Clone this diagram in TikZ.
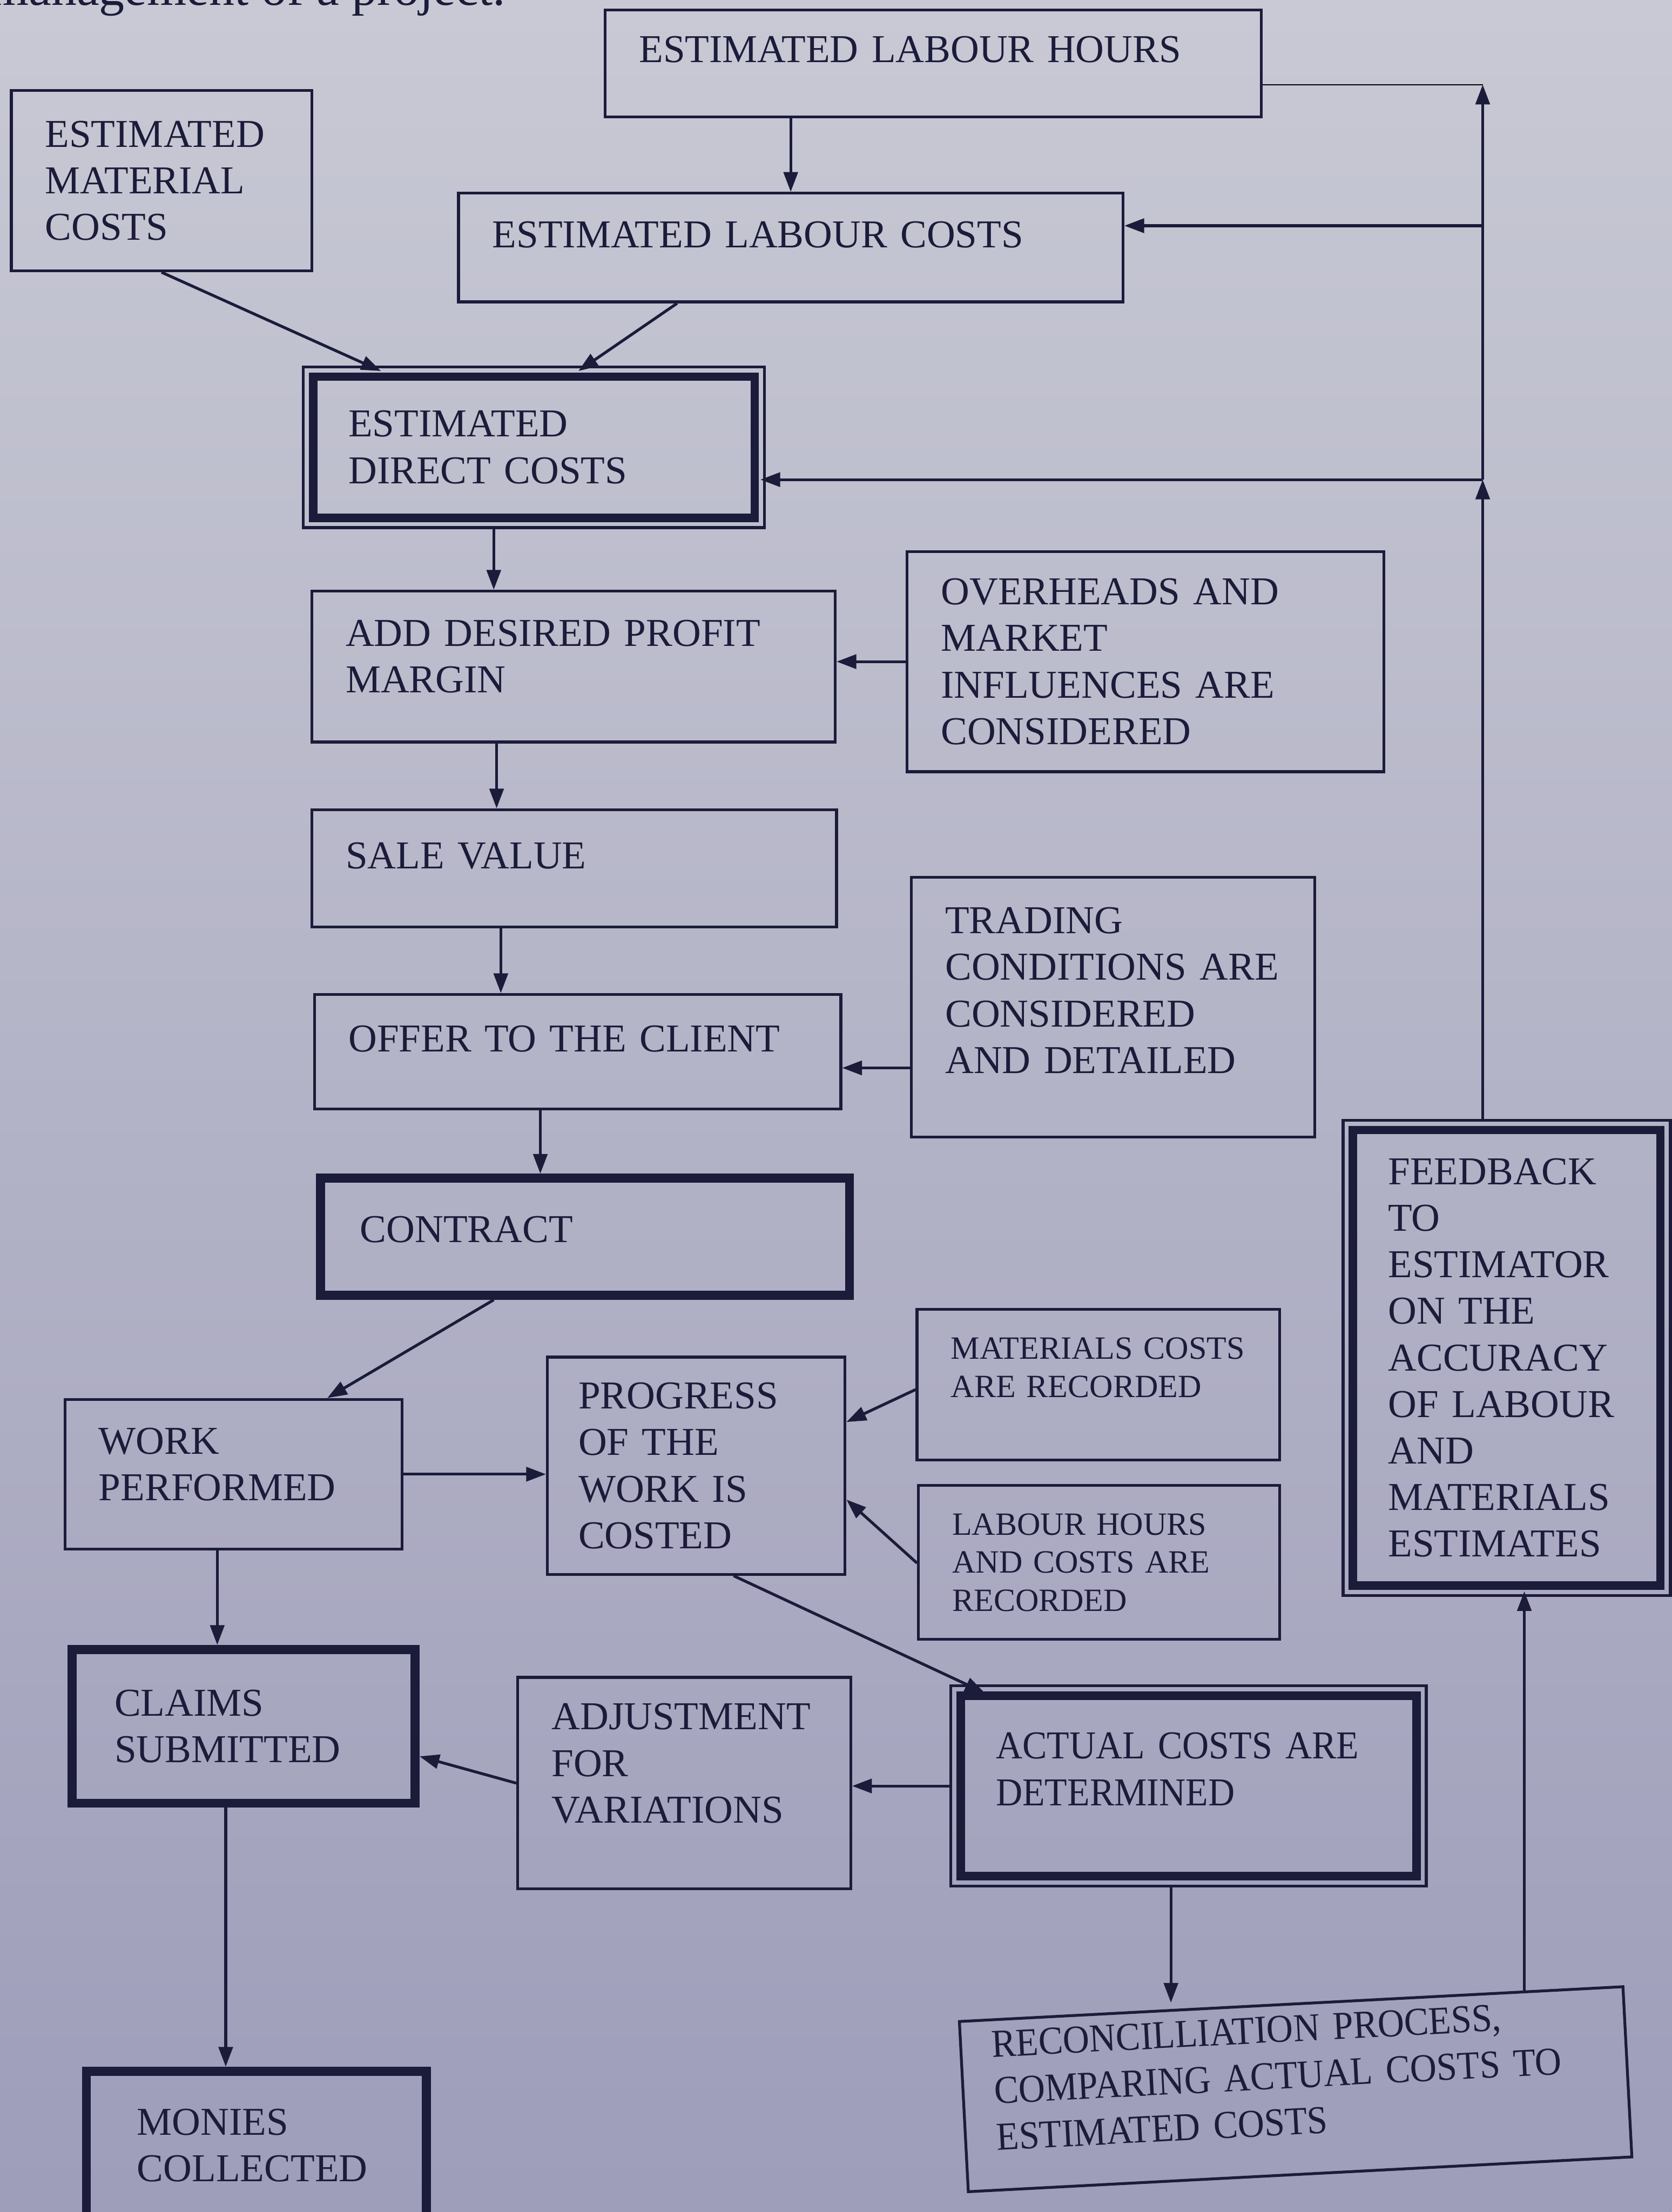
\documentclass[tikz,border=0pt]{standalone}
\usepackage{fontspec}
\setmainfont{Liberation Serif}
\newfontfamily\narrowserif[FakeStretch=0.93]{Liberation Serif}
\usetikzlibrary{arrows.meta,calc}
\definecolor{ink}{HTML}{1B1B3A}
\definecolor{paperTop}{HTML}{C8C9D4}
\definecolor{paperBot}{HTML}{9E9DBA}
\tikzset{
  box/.style={draw=ink,line width=1pt,rectangle,anchor=north west,align=left,text=ink,
              inner ysep=4pt,font=\fontsize{14}{16.5}\selectfont},
  sz/.style n args={3}{minimum width=#1*0.5pt,minimum height=#2*0.5pt,
              inner xsep=#3,text width=#1*0.5pt-2*#3},
  lift/.style={execute at end node={\par\kern#1}},
  smallbox/.style={box,font=\fontsize{11.5}{13.5}\selectfont},
  narrowbox/.style={font=\fontsize{14}{16.5}\narrowserif},
  thickbox/.style={box,line width=3.2pt},
  dblbox/.style={box,path picture={\draw[ink,line width=3pt]
      ([xshift=3.5pt,yshift=-3.5pt]path picture bounding box.north west) rectangle
      ([xshift=-3.5pt,yshift=3.5pt]path picture bounding box.south east);}},
  flow/.style={-{Triangle[length=7pt,width=5pt]},draw=ink,line width=1pt}
}
\begin{document}
\begin{tikzpicture}[x=0.5pt,y=-0.5pt]
  \shade[top color=paperTop,bottom color=paperBot] (0,0) rectangle (1185,1568);
  \useasboundingbox (0,0) rectangle (1185,1568);
  \node[anchor=base west,inner sep=0,text=ink,font=\fontsize{18}{20}\selectfont] (cap) at (-8,3.5) {management of a project.};

  % estimating
  \node[box,sz={465}{76}{12pt},lift=10pt] (hrs) at (428,6) {ESTIMATED LABOUR HOURS};
  \node[box,sz={213}{128}{12pt}] (mat) at (7,63) {ESTIMATED\\MATERIAL\\COSTS};
  \node[box,sz={471}{77}{12pt},lift=9pt] (lcost) at (324,136) {ESTIMATED LABOUR COSTS};
  \node[dblbox,sz={327}{114}{16pt}] (dc) at (214,259) {ESTIMATED\\DIRECT COSTS};
  \node[box,sz={371}{107}{12pt},lift=7pt] (pm) at (220,418) {ADD DESIRED PROFIT\\MARGIN};
  \node[box,sz={338}{156}{12pt}] (ovh) at (642,390) {OVERHEADS AND\\MARKET\\INFLUENCES ARE\\CONSIDERED};
  \node[box,sz={372}{83}{12pt},lift=9pt] (sale) at (220,573) {SALE VALUE};
  \node[box,sz={286}{184}{12pt},lift=12pt] (trade) at (645,621) {TRADING\\CONDITIONS ARE\\CONSIDERED\\AND DETAILED};
  \node[box,sz={373}{81}{12pt},lift=9pt] (offer) at (222,704) {OFFER TO THE CLIENT};
  \node[thickbox,sz={375}{83}{14pt},lift=5pt] (contr) at (224,832) {CONTRACT};

  % execution
  \node[box,sz={239}{106}{12pt},lift=7pt] (work) at (45,991) {WORK\\PERFORMED};
  \node[box,sz={211}{154}{11pt}] (prog) at (387,961) {PROGRESS\\OF THE\\WORK IS\\COSTED};
  \node[smallbox,sz={257}{107}{12pt},lift=12pt] (mrec) at (649,927) {MATERIALS COSTS\\ARE RECORDED};
  \node[smallbox,sz={256}{109}{12pt}] (lrec) at (650,1052) {LABOUR HOURS\\AND COSTS ARE\\RECORDED};
  \node[dblbox,sz={232}{337}{16pt}] (fb) at (951,793) {FEEDBACK\\TO\\ESTIMATOR\\ON THE\\ACCURACY\\OF LABOUR\\AND\\MATERIALS\\ESTIMATES};
  \node[thickbox,sz={243}{109}{15pt}] (claims) at (48,1166) {CLAIMS\\SUBMITTED};
  \node[box,sz={236}{150}{12pt},lift=14pt] (adj) at (366,1188) {ADJUSTMENT\\FOR\\VARIATIONS};
  \node[dblbox,narrowbox,sz={337}{142}{16pt},lift=12pt] (act) at (673,1194) {ACTUAL COSTS ARE\\DETERMINED};
  \node[box,narrowbox,sz={471}{116}{11pt},lift=10pt,rotate=3] (rec) at (679,1432) {RECONCILLIATION PROCESS,\\COMPARING ACTUAL COSTS TO\\ESTIMATED COSTS};
  \node[thickbox,sz={241}{105}{18pt}] (monies) at (58,1465) {MONIES\\COLLECTED};

  % feedback loop
  \coordinate (up1) at (1051,340);
  \coordinate (up2) at (1051,160);
  \coordinate (up3) at (1051,60);
  \draw[flow] (up1 |- fb.north) -- (up1);
  \draw[flow] (up1) -- (up3);
  \draw[flow] (up1) -- ($(dc.east |- up1)+(-4,0)$);
  \draw[flow] (up2) -- (lcost.east |- up2);
  \draw (hrs.east |- up3) -- (up3);

  % main flow
  \draw[flow] (lcost.north |- hrs.south) -- (lcost.north);
  \draw[flow] (mat.south) -- ($(dc.north west)+(56,4)$);
  \draw[flow] ($(lcost.south west)+(156,0)$) -- ($(dc.north west)+(196,4)$);
  \coordinate (d1) at ($(dc.south west)+(136,0)$);
  \draw[flow] (d1) -- (d1 |- pm.north);
  \draw[flow] (ovh.west) -- (ovh.west -| pm.east);
  \coordinate (p1) at ($(pm.south west)+(132,0)$);
  \draw[flow] (p1) -- (p1 |- sale.north);
  \coordinate (s1) at ($(sale.south west)+(135,0)$);
  \draw[flow] (s1) -- (s1 |- offer.north);
  \coordinate (t1) at ($(trade.south west)+(0,-50)$);
  \draw[flow] (t1) -- (t1 -| offer.east);
  \coordinate (o1) at ($(offer.south west)+(161,0)$);
  \draw[flow] (o1) -- (o1 |- contr.north);
  \draw[flow] ($(contr.south west)+(126,0)$) -- ($(work.north west)+(187,0)$);
  \draw[flow] (work.east) -- (work.east -| prog.west);
  \draw[flow] ($(mrec.north west)+(0,58)$) -- ($(prog.north east)+(0,47)$);
  \draw[flow] ($(lrec.north west)+(0,56)$) -- ($(prog.north east)+(0,102)$);
  \draw[flow] ($(prog.south west)+(133,0)$) -- ($(act.north west)+(25,6)$);
  \coordinate (w1) at ($(work.south west)+(109,0)$);
  \draw[flow] (w1) -- (w1 |- claims.north);
  \draw[flow] (adj.west) -- ($(claims.north east)+(0,79)$);
  \draw[flow] (act.west) -- (act.west -| adj.east);
  \coordinate (c1) at ($(claims.south west)+(112,0)$);
  \draw[flow] (c1) -- (c1 |- monies.north);
  \coordinate (a1) at ($(act.south west)+(157,0)$);
  \draw[flow] (a1) -- (a1 |- rec.north);
  \coordinate (r1) at ($(rec.north west)!0.85!(rec.north east)$);
  \draw[flow] (r1) -- ($(r1 |- fb.south)+(0,-4)$);
\end{tikzpicture}
\end{document}
